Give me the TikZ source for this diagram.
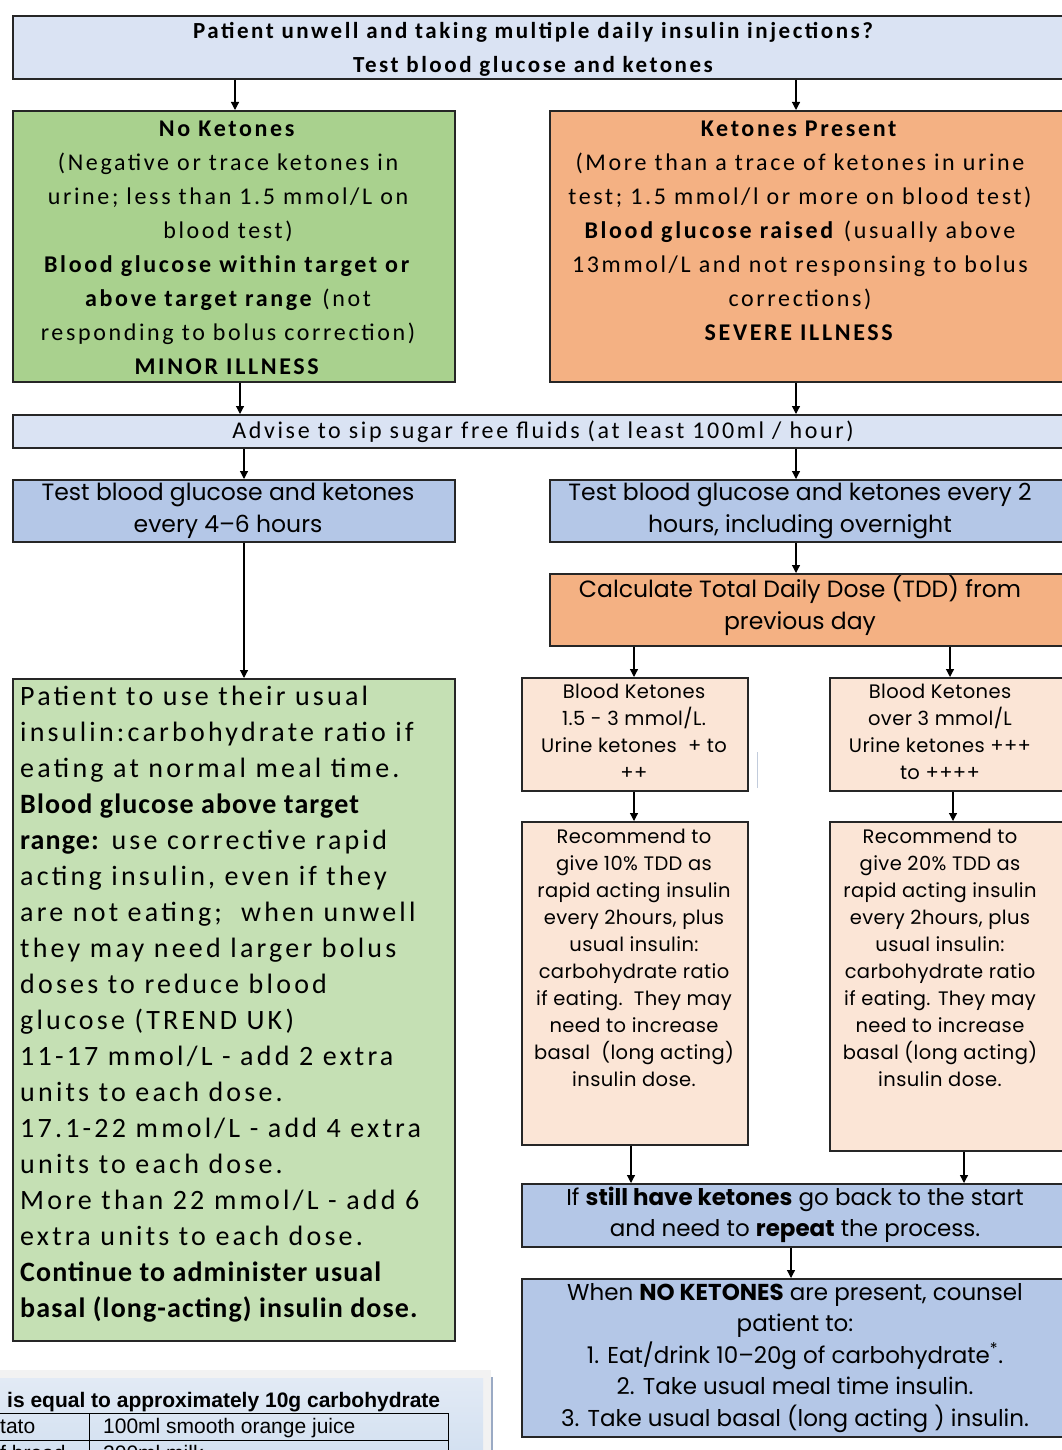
\documentclass[tikz,border=0pt]{standalone}
\usepackage{fontspec}
\setmainfont{Carlito}
\newfontfamily\calfont[LetterSpace=11]{Carlito}
\newfontfamily\calgreen[LetterSpace=11.5]{Carlito}
\newfontfamily\calgreenb[LetterSpace=4]{Carlito}
\newfontfamily\geofont{Poppins}
\newfontfamily\geopink[LetterSpace=2]{Poppins}
\newfontfamily\arifont{Liberation Sans}
\usetikzlibrary{arrows.meta}
\definecolor{lav}{HTML}{DAE3F3}
\definecolor{grA}{HTML}{A9D18E}
\definecolor{orA}{HTML}{F4B183}
\definecolor{blA}{HTML}{B4C7E7}
\definecolor{grB}{HTML}{C5E0B4}
\definecolor{pkA}{HTML}{FBE5D6}
\definecolor{edge}{HTML}{262626}
\definecolor{panTop}{HTML}{E2EAF5}
\definecolor{panBot}{HTML}{D4E1F1}
\definecolor{panEdge}{HTML}{9AAAC4}
\tikzset{
  bx/.style={draw=edge, line width=1.6pt, rectangle, inner sep=0pt, anchor=north west},
  arr/.style={-{Triangle[length=8pt,width=8pt]}, line width=1.2pt, draw=black},
  txt/.style={align=center, inner sep=0pt},
  calTxt/.style={txt, font=\calfont\fontsize{24}{34}\selectfont},
  geoTxt/.style={txt, font=\geofont\fontsize{23.5}{32}\selectfont},
  pinkTxt/.style={txt, font=\geopink\fontsize{19.5}{27}\selectfont},
  botTxt/.style={txt, font=\geofont\fontsize{23}{31.5}\selectfont},
  tabTxt/.style={anchor=base west, inner sep=0pt, font=\arifont\fontsize{21}{24}\selectfont},
}
\begin{document}
\begin{tikzpicture}[x=1pt,y=-1pt]
\useasboundingbox[fill=white] (0,0) rectangle (1062,1450);
% x positions of connectors
\coordinate (xa) at (235,0);
\coordinate (xb) at (796,0);
\coordinate (xc) at (240,0);
\coordinate (xd) at (244,0);
\coordinate (xe) at (634,0);
\coordinate (xf) at (950,0);
\coordinate (xg) at (953,0);
\coordinate (xh) at (631,0);
\coordinate (xi) at (964,0);
\coordinate (xj) at (791,0);
% boxes
\node[bx, fill=lav, minimum width=1058pt, minimum height=63pt] (top) at (12,15) {};
\node[bx, fill=grA, minimum width=442pt, minimum height=271pt] (nk) at (12,110) {};
\node[bx, fill=orA, minimum width=521pt, minimum height=271pt] (ket) at (549,110) {};
\node[bx, fill=lav, minimum width=1058pt, minimum height=33pt] (adv) at (12,414) {};
\node[bx, fill=blA, minimum width=442pt, minimum height=62pt] (testL) at (12,479) {};
\node[bx, fill=blA, minimum width=521pt, minimum height=62pt] (testR) at (549,479) {};
\node[bx, fill=orA, minimum width=521pt, minimum height=72pt] (calc) at (549,573) {};
\node[bx, fill=grB, minimum width=442pt, minimum height=662pt] (gbox) at (12,678) {};
\node[bx, fill=pkA, minimum width=226pt, minimum height=113pt] (p1) at (521,677) {};
\node[bx, fill=pkA, minimum width=241pt, minimum height=113pt] (p2) at (829,677) {};
\node[bx, fill=pkA, minimum width=226pt, minimum height=323pt] (p3) at (521,821) {};
\node[bx, fill=pkA, minimum width=241pt, minimum height=329pt] (p4) at (829,821) {};
\node[bx, fill=blA, minimum width=549pt, minimum height=63pt] (still) at (521,1183) {};
\node[bx, fill=blA, minimum width=549pt, minimum height=158pt] (nok) at (521,1278) {};
% texts
\node[calTxt, font=\calfont\bfseries\fontsize{23}{34}\selectfont] (topT) at (533,49)
  {Patient unwell and taking multiple daily insulin injections?\\Test blood glucose and ketones};
\node[calTxt] (nkT) at (228,248)
  {\textbf{No Ketones}\\(Negative or trace ketones in\\urine; less than 1.5 mmol/L on\\blood test)\\
   \textbf{Blood glucose within target or}\\\textbf{above target range} (not\\responding to bolus correction)\\\textbf{MINOR ILLNESS}};
\node[calTxt] (ketT) at (800,231)
  {\textbf{Ketones Present}\\(More than a trace of ketones in urine\\test; 1.5 mmol/l or more on blood test)\\
   \textbf{Blood glucose raised} (usually above\\13mmol/L and not responsing to bolus\\corrections)\\\textbf{SEVERE ILLNESS}};
\node[calTxt] (advT) at (543,432) {Advise to sip sugar free fluids (at least 100ml / hour)};
\node[geoTxt] (testLT) at (228,511) {Test blood glucose and ketones\\every 4–6 hours};
\node[geoTxt] (testRT) at (800,511) {Test blood glucose and ketones every 2\\hours, including overnight};
\node[geoTxt] (calcT) at (800,606) {Calculate Total Daily Dose (TDD) from\\previous day};
\node[txt, align=left, anchor=west, font=\calgreen\fontsize{28}{36}\selectfont] (gT) at (20,1004)
  {Patient to use their usual\\insulin:carbohydrate ratio if\\eating at normal meal time.\\
   {\calgreenb\bfseries Blood glucose above target}\\{\calgreenb\bfseries range:} use corrective rapid\\
   acting insulin, even if they\\are not eating;\ \ when unwell\\they may need larger bolus\\
   doses to reduce blood\\glucose (TREND UK)\\11-17 mmol/L - add 2 extra\\units to each dose.\\
   17.1-22 mmol/L - add 4 extra\\units to each dose.\\More than 22 mmol/L - add 6\\
   extra units to each dose.\\{\calgreenb\bfseries Continue to administer usual}\\
   {\calgreenb\bfseries basal (long-acting) insulin dose.}};
\node[pinkTxt] (p1T) at (634,732) {Blood Ketones\\1.5 - 3 mmol/L.\\Urine ketones\ \ + to\\++};
\node[pinkTxt] (p2T) at (940,732) {Blood Ketones\\over 3 mmol/L\\Urine ketones +++\\to ++++};
\node[pinkTxt] (p3T) at (634,958) {Recommend to\\give 10\% TDD as\\rapid acting insulin\\every 2hours, plus\\usual insulin:\\
   carbohydrate ratio\\if eating.\ \ They may\\need to increase\\basal\ \ (long acting)\\insulin dose.};
\node[pinkTxt] (p4T) at (940,958) {Recommend to\\give 20\% TDD as\\rapid acting insulin\\every 2hours, plus\\usual insulin:\\
   carbohydrate ratio\\if eating. They may\\need to increase\\basal (long acting)\\insulin dose.};
\node[botTxt] (stillT) at (795,1215) {If \textbf{still have ketones} go back to the start\\and need to \textbf{repeat} the process.};
\node[botTxt] (nokT) at (795,1358) {When \textbf{NO KETONES} are present, counsel\\patient to:\\1. Eat/drink 10–20g of carbohydrate\textsuperscript{*}.\\
   2. Take usual meal time insulin.\\3. Take usual basal (long acting ) insulin.};
% connectors
\draw[arr] (top.south -| xa) -- (nk.north -| xa);
\draw[arr] (top.south -| xb) -- (ket.north -| xb);
\draw[arr] (nk.south -| xc) -- (adv.north -| xc);
\draw[arr] (ket.south -| xb) -- (adv.north -| xb);
\draw[arr] (adv.south -| xd) -- (testL.north -| xd);
\draw[arr] (adv.south -| xb) -- (testR.north -| xb);
\draw[arr] (testL.south -| xd) -- (gbox.north -| xd);
\draw[arr] (testR.south -| xb) -- (calc.north -| xb);
\draw[arr] (calc.south -| xe) -- (p1.north -| xe);
\draw[arr] (calc.south -| xf) -- (p2.north -| xf);
\draw[arr] (p1.south -| xe) -- (p3.north -| xe);
\draw[arr] (p2.south -| xg) -- (p4.north -| xg);
\draw[arr] (p3.south -| xh) -- (still.north -| xh);
\draw[arr] (p4.south -| xi) -- (still.north -| xi);
\draw[arr] (still.south -| xj) -- (nok.north -| xj);
% stray mark
\draw[color=panEdge!60, line width=1pt] (757,752) -- (757,788);
% bottom-left carbohydrate panel
\fill[black!5] (0,1370) rectangle (491,1450);
\shade[top color=panTop, bottom color=panBot] (0,1378) rectangle (483,1450);
\draw[color=panEdge, line width=1.5pt] (492,1377) -- (492,1450);
\node[anchor=base west, inner sep=0pt, font=\arifont\bfseries\fontsize{21}{24}\selectfont] (carbH) at (7,1407.5)
  {is equal to approximately 10g carbohydrate};
\begin{scope}
\clip (0,1410) rectangle (452,1450);
\draw[line width=0.9pt] (-5,1413) -- (448,1413) -- (448,1460);
\draw[line width=0.9pt] (89,1413) -- (89,1460);
\draw[line width=0.9pt] (-5,1440) -- (448,1440);
\node[tabTxt] (r1a) at (0,1433) {tato};
\node[tabTxt] (r1b) at (103,1433) {100ml smooth orange juice};
\node[tabTxt] (r2a) at (0,1460) {f bread};
\node[tabTxt] (r2b) at (103,1460) {200ml milk};
\end{scope}
\end{tikzpicture}
\end{document}
